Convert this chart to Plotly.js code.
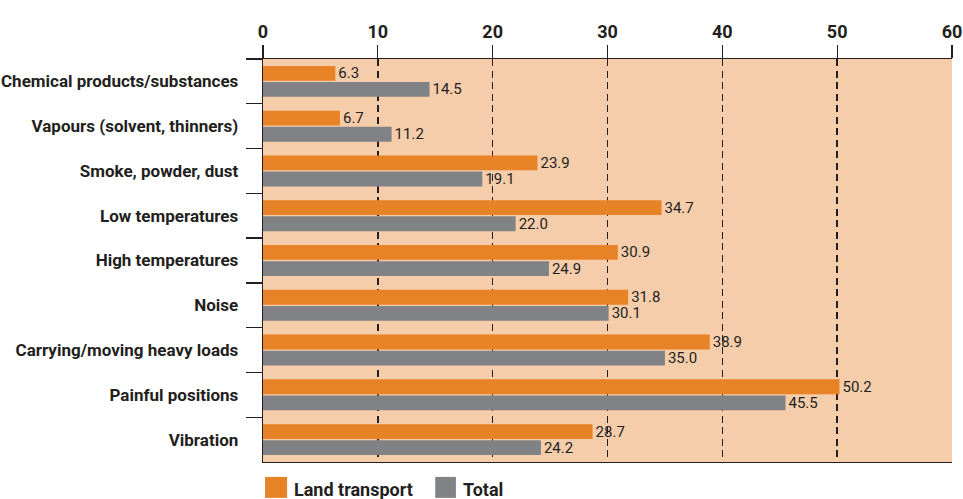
<!DOCTYPE html>
<html>
<head>
<meta charset="utf-8">
<script src="https://cdn.plot.ly/plotly-3.0.1.min.js"></script>
<style>html,body{margin:0;padding:0;background:#fff}#chart{width:963px;height:499px}</style>
</head>
<body>
<div id="chart"></div>
<script>
var categories = ["Chemical products/substances","Vapours (solvent, thinners)","Smoke, powder, dust","Low temperatures","High temperatures","Noise","Carrying/moving heavy loads","Painful positions","Vibration"];
var landTransport = [6.3, 6.7, 23.9, 34.7, 30.9, 31.8, 38.9, 50.2, 28.7];
var total = [14.5, 11.2, 19.1, 22.0, 24.9, 30.1, 35.0, 45.5, 24.2];
var seriesNames = ["Land transport", "Total"];
var xTicks = [0, 10, 20, 30, 40, 50, 60];

var FONT = "Roboto, 'Liberation Sans', sans-serif";
var ORANGE = "#e88226";
var GREY = "#818285";
var INK = "#231f20";

function f(size, bold) {
  return {family:FONT, size:size, color:INK, weight: bold ? "bold" : "normal"};
}

var traces = [
  {type:"bar", orientation:"h", name:seriesNames[0], y:categories, x:landTransport,
   marker:{color:ORANGE}, text:landTransport.map(function(v){return v.toFixed(1);}),
   textposition:"outside", cliponaxis:false, constraintext:"none", textfont:f(15, false)},
  {type:"bar", orientation:"h", name:seriesNames[1], y:categories, x:total,
   marker:{color:GREY}, text:total.map(function(v){return v.toFixed(1);}),
   textposition:"outside", cliponaxis:false, constraintext:"none", textfont:f(15, false)}
];

var layout = {
  width:963, height:499,
  margin:{l:263, r:11, t:59, b:37},
  paper_bgcolor:"#ffffff",
  plot_bgcolor:"#f6cdaa",
  barmode:"group",
  bargap:0.28,
  bargroupgap:0.08,
  showlegend:false,
  font:f(14, false),
  xaxis:{
    side:"top", range:[0,60], tickvals:xTicks, ticktext:xTicks.map(String),
    ticklabeloverflow:"allow",
    showgrid:true, gridcolor:INK, griddash:"7px,4.5px", gridwidth:1.4,
    zeroline:false, showline:true, linecolor:INK, linewidth:1.3, mirror:true,
    ticks:"outside", ticklen:13, tickwidth:1.3, tickcolor:INK,
    tickfont:f(18, true), fixedrange:true
  },
  yaxis:{
    type:"category", autorange:"reversed", tickson:"boundaries",
    ticks:"outside", ticklen:16, tickwidth:1.3, tickcolor:INK,
    ticklabelstandoff:20,
    showline:true, linecolor:INK, linewidth:1.3, mirror:false,
    showgrid:false, zeroline:false,
    tickfont:f(17, true), fixedrange:true
  },
  shapes:[
    {type:"rect", xref:"paper", yref:"paper", x0:0.003, x1:0.035, y0:-0.037, y1:-0.089, fillcolor:ORANGE, line:{width:0}},
    {type:"rect", xref:"paper", yref:"paper", x0:0.250, x1:0.280, y0:-0.037, y1:-0.089, fillcolor:GREY, line:{width:0}}
  ],
  annotations:[
    {xref:"paper", yref:"paper", x:0.042, y:-0.068, xanchor:"left", yanchor:"middle", showarrow:false, text:seriesNames[0], font:f(18, true)},
    {xref:"paper", yref:"paper", x:0.288, y:-0.068, xanchor:"left", yanchor:"middle", showarrow:false, text:seriesNames[1], font:f(18, true)}
  ]
};

Plotly.newPlot("chart", traces, layout, {displayModeBar:false, staticPlot:true});
</script>
</body>
</html>
